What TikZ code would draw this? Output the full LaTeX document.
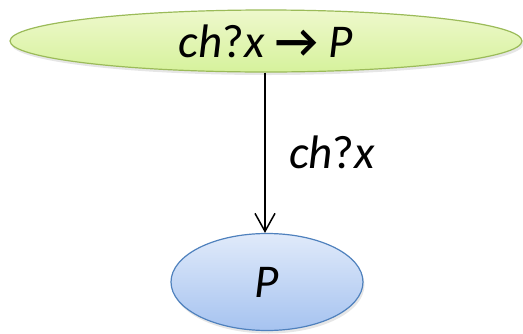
\documentclass[tikz,border=0pt]{standalone}
\usepackage{fontspec}
\setmainfont{Carlito}
\usetikzlibrary{arrows.meta,shapes.geometric,shadows}

\definecolor{procgreen}{HTML}{9BBB59}
\definecolor{procblue}{HTML}{4F81BD}
\definecolor{greentop}{HTML}{EEF8CC}
\definecolor{greenbot}{HTML}{D6F29C}
\definecolor{bluetop}{HTML}{E0EAFA}
\definecolor{bluebot}{HTML}{A6C3F0}

\begin{document}
\begin{tikzpicture}[x=1pt,y=-1pt,>=Latex,font=\fontsize{47}{52}\selectfont,
 proc/.style={ellipse,inner sep=0pt,line width=1.2pt,
  drop shadow={opacity=0.2,shadow xshift=1.5pt,shadow yshift=-3pt}}]
\useasboundingbox (0,0) rectangle (523,333);
\node[proc,draw=procgreen,top color=greentop,bottom color=greenbot,
 minimum width=512pt,minimum height=62pt] (pre) at (266,41) {\textit{ch}?\textit{x} \textbf{→} \textit{P}};
\node[proc,draw=procblue,top color=bluetop,bottom color=bluebot,
 minimum width=192pt,minimum height=97pt] (cont) at (267,282) {\textit{P}};
\draw[-{Straight Barb[length=18pt,width=20pt]},line width=1.5pt] (pre.south -| 265,0) -- (cont.north -| 265,0)
 node[midway,right=20pt] (lbl) {\textit{ch}?\textit{x}};
\end{tikzpicture}
\end{document}
